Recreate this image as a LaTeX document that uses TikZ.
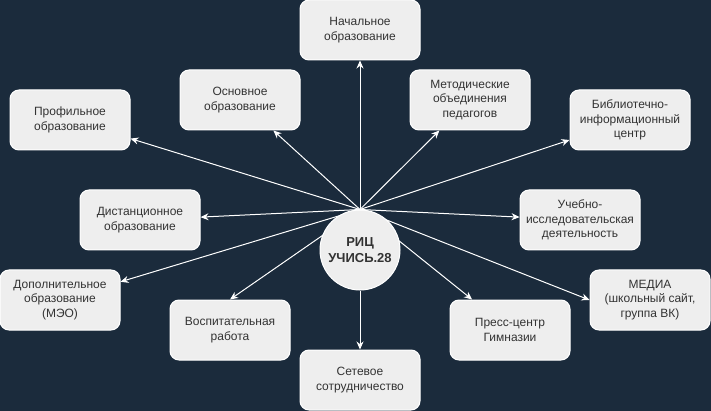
\documentclass[tikz,border=0pt]{standalone}
\usepackage{fontspec}
\setmainfont{Liberation Sans}
\usetikzlibrary{arrows.meta,backgrounds}
\definecolor{bg}{HTML}{1B2B3C}
\definecolor{boxfill}{HTML}{EEEEEE}
\definecolor{txt}{HTML}{333333}
\begin{document}
\begin{tikzpicture}[x=1pt,y=-1pt,
  box/.style={draw=white, line width=1pt, fill=boxfill, rounded corners=9pt,
    minimum width=120pt, minimum height=60pt, inner sep=0pt, align=center,
    text=txt, font=\fontsize{12}{14.4}\selectfont},
  hubc/.style={circle, draw=white, line width=1pt, fill=boxfill, minimum size=80pt,
    inner sep=0pt, align=center, text=txt, font=\bfseries\fontsize{13}{15.6}\selectfont},
  arr/.style={draw=white, line width=1pt, -{Stealth[length=8pt,width=7pt]}}]
\useasboundingbox (0,0) rectangle (711,411);
\node[hubc] (c) at (360,250) {РИЦ\\УЧИСЬ.28};
\node[box] (nach) at (360,30) {Начальное\\образование};
\node[box] (osn) at (240,100) {Основное\\образование};
\node[box] (met) at (470,100) {Методические\\объединения\\педагогов};
\node[box] (prof) at (70,120) {Профильное\\образование};
\node[box] (bib) at (630,120) {Библиотечно-\\информационный\\центр};
\node[box] (dist) at (140,220) {Дистанционное\\образование};
\node[box] (ucheb) at (580,220) {Учебно-\\исследовательская\\деятельность};
\node[box] (dop) at (60,300) {Дополнительное\\образование\\(МЭО)};
\node[box] (media) at (650,300) {МЕДИА\\(школьный сайт,\\группа ВК)};
\node[box] (vos) at (230,330) {Воспитательная\\работа};
\node[box] (press) at (510,330) {Пресс-центр\\Гимназии};
\node[box] (set) at (360,380) {Сетевое\\сотрудничество};
\begin{scope}[on background layer]
\fill[bg] (0,0) rectangle (711,411);
\draw[arr] (c.north) -- (nach);
\draw[arr] (c.north) -- (osn);
\draw[arr] (c.north) -- (met);
\draw[arr] (c.north) -- (prof);
\draw[arr] (c.north) -- (bib);
\draw[arr] (c.north) -- (dist);
\draw[arr] (c.north) -- (ucheb);
\draw[arr] (c.north) -- (dop);
\draw[arr] (c.north) -- (media.west);
\draw[arr] (c.north) -- (vos.north);
\draw[arr] (c.north) -- (press);
\draw[arr] (c.south) -- (set);
\end{scope}
\end{tikzpicture}
\end{document}
